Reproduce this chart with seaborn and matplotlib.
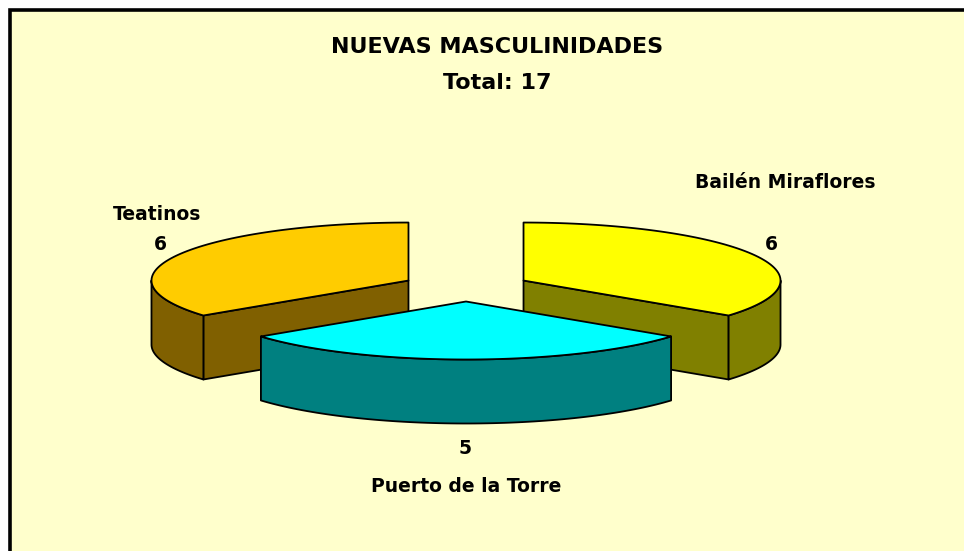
import numpy as np
import matplotlib.pyplot as plt
import seaborn as sns
from matplotlib.patches import Polygon, Rectangle

# data (counter-clockwise, starting with the front slice)
labels = ['Puerto de la Torre', 'Bailén Miraflores', 'Teatinos']
values = [5, 6, 6]
top_colors = ['#00FFFF', '#FFFF00', '#FFCC00']
side_colors = ['#008080', '#808000', '#806000']
title = 'NUEVAS MASCULINIDADES'

# layout of the 3D pie, in pixels
cx, cy = 466, 287
rx, ry = 257, 58
depth = 64
explode = 0.25

# label placement (name position, value position)
label_pos = {
    'Puerto de la Torre': ((466, 486), (465, 449)),
    'Bailén Miraflores': ((785, 183), (771, 244)),
    'Teatinos': ((157, 214), (160, 244)),
}

sns.set_theme(style='white')
plt.rcParams['font.family'] = ['DejaVu Sans']

fig = plt.figure(figsize=(9.64, 5.51), dpi=100)
fig.patch.set_facecolor('white')
ax = fig.add_axes([0, 0, 1, 1])
ax.set_xlim(0, 964)
ax.set_ylim(551, 0)
ax.axis('off')

ax.add_patch(Rectangle((10, 10), 1000, 600, facecolor='#FFFFCC',
                       edgecolor='black', linewidth=2.6, zorder=0))

total = sum(values)
start = 270 - 360 * values[0] / total / 2
bounds = []
a = start
for v in values:
    bounds.append((a, a + 360 * v / total))
    a += 360 * v / total


def rim(ox, oy, th, dz=0):
    t = np.radians(th)
    return np.column_stack([ox + rx * np.cos(t), oy - ry * np.sin(t) + dz])


def arc(a0, a1, n=80):
    return np.linspace(a0, a1, n)


slices = []
for lab, (a0, a1), tc, sc in zip(labels, bounds, top_colors, side_colors):
    m = np.radians((a0 + a1) / 2)
    ox = cx + explode * rx * np.cos(m)
    oy = cy - explode * ry * np.sin(m)
    slices.append((np.sin(m), lab, a0, a1, ox, oy, tc, sc))

# back slices first
slices.sort(key=lambda s: -s[0])

edge = dict(edgecolor='black', linewidth=1.3, joinstyle='round')
for _, lab, a0, a1, ox, oy, tc, sc in slices:
    # radial walls
    for ang, vis in ((a0, np.cos(np.radians(a0)) > 1e-6),
                     (a1, np.cos(np.radians(a1)) < -1e-6)):
        if vis:
            p = rim(ox, oy, [ang])[0]
            poly = [(ox, oy), tuple(p), (p[0], p[1] + depth), (ox, oy + depth)]
            ax.add_patch(Polygon(poly, facecolor=sc, **edge))
    # curved outer wall (front facing part)
    for k in (0, 360):
        lo = max(a0, 180 + k)
        hi = min(a1, 360 + k)
        if hi > lo:
            th = arc(lo, hi)
            top = rim(ox, oy, th)
            bot = rim(ox, oy, th[::-1], depth)
            ax.add_patch(Polygon(np.vstack([top, bot]), facecolor=sc, **edge))
    # top face
    pts = np.vstack([[ox, oy], rim(ox, oy, arc(a0, a1))])
    ax.add_patch(Polygon(pts, facecolor=tc, **edge))

for lab, v in zip(labels, values):
    (nx, ny), (vx, vy) = label_pos[lab]
    ax.text(nx, ny, lab, ha='center', va='center', fontsize=13.5,
            fontweight='bold', color='black')
    ax.text(vx, vy, str(v), ha='center', va='center', fontsize=13.5,
            fontweight='bold', color='black')

ax.text(497, 47, title, ha='center', va='center', fontsize=16,
        fontweight='bold', color='black')
ax.text(497, 83, f'Total: {total}', ha='center', va='center', fontsize=16,
        fontweight='bold', color='black')

fig.savefig('out.png', dpi=100, facecolor='white')
